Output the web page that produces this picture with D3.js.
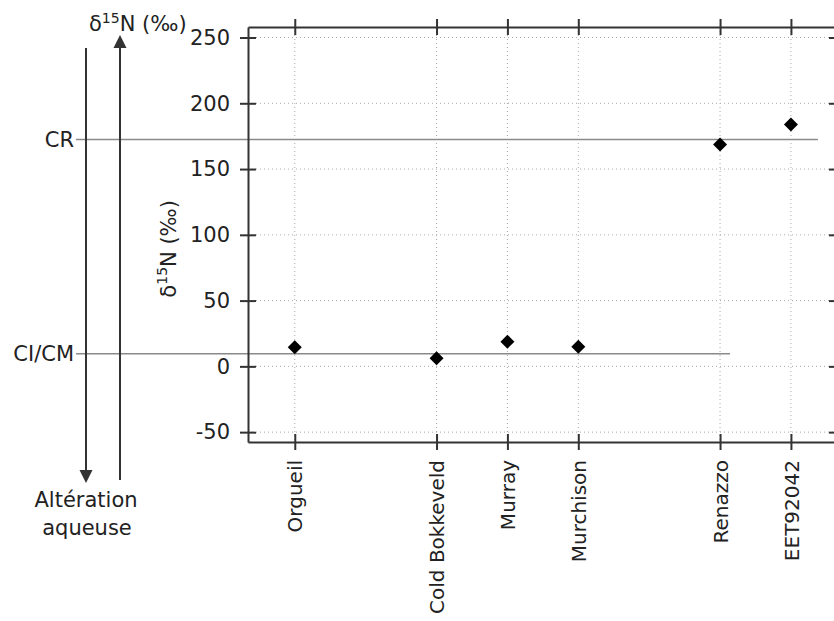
<!DOCTYPE html>
<html>
<head>
<meta charset="utf-8">
<script src="https://cdn.jsdelivr.net/npm/d3@7/dist/d3.min.js"></script>
<style>
  html, body { margin: 0; padding: 0; background: #fff; }
  svg { display: block; }
  text { font-family: "DejaVu Sans", "Liberation Sans", sans-serif; fill: #222; }
</style>
</head>
<body>
<div id="chart"></div>
<script>
// ---- Data ----
const meteorites = ["Orgueil", "Cold Bokkeveld", "Murray", "Murchison", "Renazzo", "EET92042"];
const positions  = [0, 2, 3, 4, 6, 7];
const d15N       = [14.6, 6.2, 18.8, 15, 168.7, 183.9];
const yTicks     = [-50, 0, 50, 100, 150, 200, 250];
const yTickLabels = ["-50", "0", "50", "100", "150", "200", "250"];
const refLabels  = ["CR", "CI/CM"];
const refValues  = [172.5, 9.5];
const refEnds    = [7.38, 6.14];   // end position on x axis of each reference line

const W = 834, H = 621;
const svg = d3.select("#chart").append("svg").attr("width", W).attr("height", H);

const x = d3.scaleLinear().domain([-0.66, 7.65]).range([248, 837]);
const y = d3.scaleLinear().domain([-57.5, 258]).range([442, 27]);

const x0 = x.range()[0], x1 = x.range()[1];
const yTop = y.range()[1], yBot = y.range()[0];
const axisColor = "#333";

// grid (dotted)
const grid = svg.append("g");
grid.selectAll("line.h").data(yTicks).join("line")
  .attr("x1", x0).attr("x2", x1)
  .attr("y1", d => y(d)).attr("y2", d => y(d))
  .attr("stroke", "#aaa").attr("stroke-width", 1).attr("stroke-dasharray", "1,3");
grid.selectAll("line.v").data(positions).join("line")
  .attr("x1", d => x(d)).attr("x2", d => x(d))
  .attr("y1", yTop).attr("y2", yBot)
  .attr("stroke", "#aaa").attr("stroke-width", 1).attr("stroke-dasharray", "1,3");

// reference lines
const refs = refLabels.map((l, i) => ({label: l, v: refValues[i], end: refEnds[i]}));
svg.selectAll("line.ref").data(refs).join("line")
  .attr("x1", 76).attr("x2", d => x(d.end))
  .attr("y1", d => y(d.v)).attr("y2", d => y(d.v))
  .attr("stroke", "#8a8a8a").attr("stroke-width", 1.5);
svg.selectAll("text.ref").data(refs).join("text")
  .attr("x", 74).attr("y", d => y(d.v)).attr("dy", "0.36em")
  .attr("text-anchor", "end").attr("font-size", 21)
  .text(d => d.label);

// axes frame with crossing ticks
const tickLen = 8;
// left axis
const yAxisL = d3.axisLeft(y).tickValues(yTicks).tickSizeInner(tickLen).tickSizeOuter(0).tickPadding(10)
  .tickFormat((d, i) => yTickLabels[i]);
const gL = svg.append("g").attr("transform", `translate(${x0},0)`).call(yAxisL);
gL.selectAll(".tick line").attr("x2", tickLen).attr("x1", -tickLen);
// right axis
const yAxisR = d3.axisRight(y).tickValues(yTicks).tickSizeInner(tickLen).tickSizeOuter(0).tickFormat("");
const gR = svg.append("g").attr("transform", `translate(${x1},0)`).call(yAxisR);
gR.selectAll(".tick line").attr("x1", -tickLen).attr("x2", tickLen);
// top axis
const xAxisT = d3.axisTop(x).tickValues(positions).tickSizeInner(tickLen).tickSizeOuter(0).tickFormat("");
const gT = svg.append("g").attr("transform", `translate(0,${yTop})`).call(xAxisT);
gT.selectAll(".tick line").attr("y1", tickLen).attr("y2", -tickLen);
// bottom axis
const xAxisB = d3.axisBottom(x).tickValues(positions).tickSizeInner(tickLen).tickSizeOuter(0)
  .tickFormat((d, i) => meteorites[i]);
const gB = svg.append("g").attr("transform", `translate(0,${yBot})`).call(xAxisB);
gB.selectAll(".tick line").attr("y1", -tickLen).attr("y2", tickLen);

[gL, gR, gT, gB].forEach(g => {
  g.select(".domain").attr("stroke", axisColor).attr("stroke-width", 2);
  g.selectAll(".tick line").attr("stroke", axisColor).attr("stroke-width", 2);
  g.selectAll(".tick text").attr("font-family", "DejaVu Sans, sans-serif").attr("font-size", 21).attr("fill", "#222");
});
gB.selectAll(".tick text")
  .attr("font-size", 20)
  .attr("text-anchor", "end")
  .attr("transform", "rotate(-90)")
  .attr("x", -18).attr("y", 0).attr("dy", "0.36em");

// y axis title
const yt = svg.append("text")
  .attr("transform", `translate(176,${y(100) + 14}) rotate(-90)`)
  .attr("text-anchor", "middle").attr("font-size", 21);
yt.append("tspan").text("δ");
yt.append("tspan").attr("font-size", 14).attr("dy", -9).text("15");
yt.append("tspan").attr("dy", 9).text("N (‰)");

// points
svg.selectAll("path.pt").data(d15N).join("path")
  .attr("d", d3.symbol().type(d3.symbolSquare).size(98))
  .attr("transform", (d, i) => `translate(${x(positions[i])},${y(d)}) rotate(45)`)
  .attr("fill", "#000");

// left annotation arrows
const ann = svg.append("g").attr("stroke", axisColor).attr("stroke-width", 2);
ann.append("line").attr("x1", 86).attr("x2", 86).attr("y1", 48).attr("y2", 472);
svg.append("path").attr("d", "M79.5,470 L92.5,470 L86,483 Z").attr("fill", axisColor);
ann.append("line").attr("x1", 120).attr("x2", 120).attr("y1", 480).attr("y2", 46);
svg.append("path").attr("d", "M113.5,48 L126.5,48 L120,35 Z").attr("fill", axisColor);

const tt = svg.append("text").attr("x", 89).attr("y", 31).attr("font-size", 21);
tt.append("tspan").text("δ");
tt.append("tspan").attr("font-size", 14).attr("dy", -8).text("15");
tt.append("tspan").attr("dy", 8).text("N (‰)");

svg.append("text").attr("x", 86).attr("y", 507).attr("text-anchor", "middle").attr("font-size", 21).text("Altération");
svg.append("text").attr("x", 87).attr("y", 535).attr("text-anchor", "middle").attr("font-size", 21).text("aqueuse");
</script>
</body>
</html>
